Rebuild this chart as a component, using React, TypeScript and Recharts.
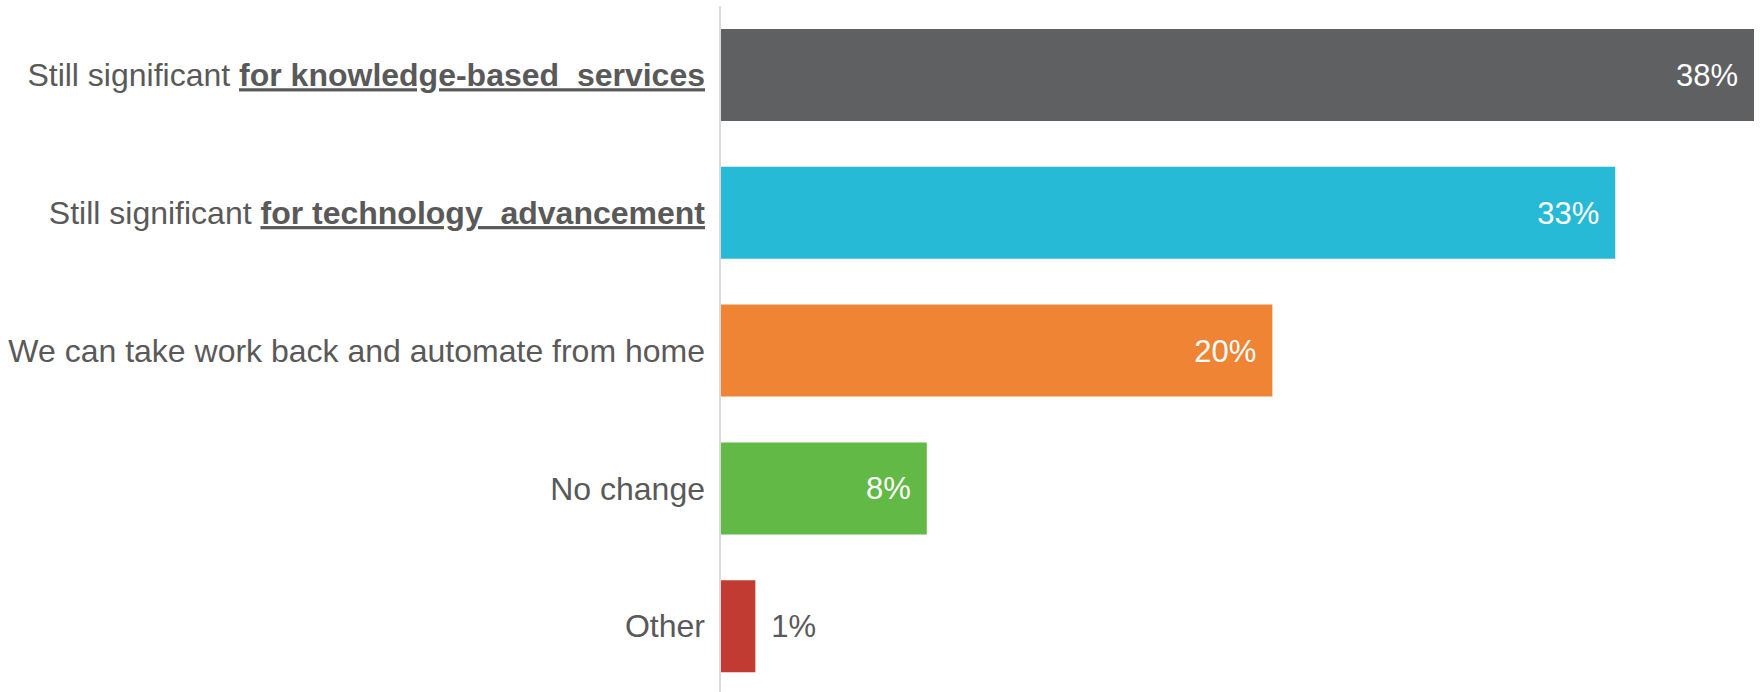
import { BarChart, Bar, XAxis, YAxis, Cell, LabelList } from "recharts";

const categories = [
  "Still significant for knowledge-based  services",
  "Still significant for technology  advancement",
  "We can take work back and automate from home",
  "No change",
  "Other",
];
// bold + underlined tail of each category label
const emphasis = [
  "for knowledge-based  services",
  "for technology  advancement",
  "",
  "",
  "",
];
const values = [38, 32.9, 20.3, 7.6, 1.3];
const valueLabels = ["38%", "33%", "20%", "8%", "1%"];
const colors = ["#5f6062", "#27bad7", "#ee8434", "#62b946", "#c23b33"];

const TEXT = "#595959";
const FONT = "'Liberation Sans', Arial, sans-serif";

const data = categories.map((name, i) => ({
  name,
  value: values[i],
  label: valueLabels[i],
}));

function CategoryTick({ x, y, payload, index }: any) {
  const full: string = payload.value;
  const bold = emphasis[index] || "";
  const lead = bold ? full.slice(0, full.length - bold.length) : full;
  return (
    <text
      x={x - 7}
      y={y}
      dy="0.355em"
      textAnchor="end"
      fill={TEXT}
      fontSize={32}
      fontFamily={FONT}
      style={{ whiteSpace: "pre" }}
    >
      <tspan>{lead}</tspan>
      {bold && (
        <tspan fontWeight="bold" style={{ textDecoration: "underline" }}>
          {bold}
        </tspan>
      )}
    </text>
  );
}

function ValueLabel({ x, y, width, height, index }: any) {
  const text = valueLabels[index];
  const inside = width > 80;
  return (
    <text
      x={inside ? x + width - 16 : x + width + 16}
      y={y + height / 2}
      dy="0.355em"
      textAnchor={inside ? "end" : "start"}
      fill={inside ? "#ffffff" : TEXT}
      fontSize={31}
      fontFamily={FONT}
    >
      {text}
    </text>
  );
}

export default function App() {
  return (
    <div
      style={{
        position: "absolute",
        left: 0,
        top: 0,
        width: 1761,
        height: 692,
        overflow: "hidden",
        background: "#ffffff",
      }}
    >
      <BarChart
        width={1761}
        height={695}
        data={data}
        layout="vertical"
        margin={{ top: 6, right: 7, bottom: 0, left: 0 }}
      >
        <XAxis type="number" hide domain={[0, 38]} />
        <YAxis
          type="category"
          dataKey="name"
          width={720}
          axisLine={{ stroke: "#d9d9d9", strokeWidth: 2 }}
          tickLine={false}
          interval={0}
          tick={<CategoryTick />}
        />
        <Bar dataKey="value" barSize={92} isAnimationActive={false}>
          {data.map((d, i) => (
            <Cell key={d.name} fill={colors[i]} />
          ))}
          <LabelList dataKey="label" content={<ValueLabel />} />
        </Bar>
      </BarChart>
    </div>
  );
}
